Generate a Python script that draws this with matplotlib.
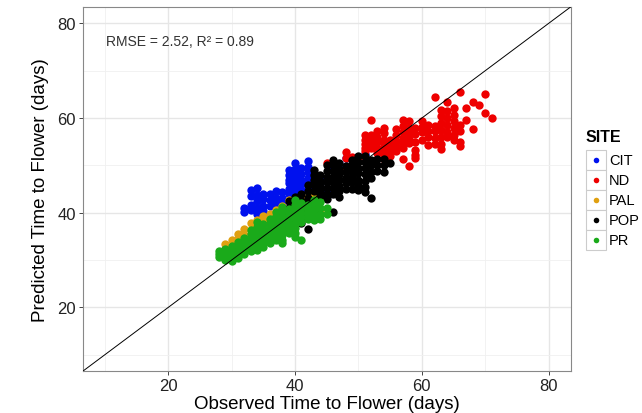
import matplotlib
matplotlib.use("Agg")
import matplotlib.pyplot as plt
from matplotlib.patches import Rectangle
from matplotlib.lines import Line2D

plt.rcParams['font.family'] = ['Liberation Sans', 'DejaVu Sans']

# observed day -> predicted days
cit = {32: [41.0, 40.2], 33: [44.8, 43.5, 41.6, 40.6],
       34: [45.2, 43.7, 42.4, 41.0, 39.8], 35: [44.0, 42.8, 41.5, 40.3],
       36: [43.9, 42.6, 41.4], 37: [44.5, 43.2, 42.0], 38: [44.3, 43.0, 41.8],
       39: [49.1, 48.0, 47.0, 46.2, 45.0, 44.0],
       40: [50.5, 49.3, 48.2, 47.1, 46.0, 45.0, 44.0, 42.8],
       41: [49.4, 48.2, 47.0, 46.0, 44.8],
       42: [50.9, 49.7, 48.5, 47.3, 46.2, 45.3],
       43: [48.0, 46.8, 45.6, 44.6], 44: [47.6, 46.2, 45.0, 43.8],
       45: [44.5, 43.6], 46: [50.5, 49.2], 47: [50.3, 49.1], 48: [51.6],
       50: [51.2], 51: [52.5]}

nd = {45: [50.4], 48: [52.8, 51.6, 49.1], 49: [51.7], 50: [51.3],
      51: [56.5, 55.3, 54.5, 53.7, 53.0], 52: [59.5, 56.5, 55.6, 54.6, 53.7],
      53: [57.2, 56.0, 55.0, 53.7, 52.6],
      54: [57.9, 56.8, 55.4, 54.3, 53.2, 52.2, 51.3],
      55: [55.4, 54.3, 53.2, 52.0], 56: [57.6, 56.5, 55.2, 54.0, 53.0],
      57: [59.5, 58.3, 57.0, 55.8, 54.7, 53.7, 51.4],
      58: [59.3, 58.0, 56.8, 55.6, 54.7, 49.8],
      59: [57.9, 56.6, 55.0, 53.3, 52.2, 51.5],
      60: [59.3, 58.1, 57.0, 55.4], 61: [58.6, 57.3, 56.0, 54.4],
      62: [64.5, 58.4, 57.2, 55.8, 54.5],
      63: [61.8, 60.4, 59.0, 57.4, 56.0, 54.6, 53.4],
      64: [63.3, 61.5, 60.0, 58.5, 57.0, 55.9],
      65: [62.1, 60.7, 59.3, 58.0, 56.5, 55.3],
      66: [65.6, 58.6, 57.2, 55.0, 54.0], 67: [62.2, 59.6],
      68: [63.3, 57.6], 69: [62.8], 70: [65.1, 61.1], 71: [60.1]}

pal = {29: [33.3, 32.4], 30: [34.2, 33.0], 31: [35.6, 34.5], 32: [36.6, 35.2],
       33: [37.9, 36.3], 34: [38.4, 36.9], 35: [39.3, 38.2], 36: [39.8, 38.8],
       37: [40.6, 39.3], 38: [41.5, 40.0, 37.5], 39: [42.7, 36.3],
       40: [42.4, 40.8], 41: [43.0, 41.5], 42: [43.4, 41.7],
       43: [43.8, 42.2], 44: [43.2, 40.6]}

pop = {38: [40.5, 39.3], 39: [42.5, 41.0], 40: [43.4, 41.8, 40.2, 38.2],
       41: [44.0, 42.5, 40.5, 39.0, 37.8], 42: [45.8, 44.5, 43.2, 42.0, 36.6],
       43: [49.1, 48.0, 47.0, 45.8, 44.5], 44: [48.0, 46.7, 45.6, 44.6, 43.5],
       45: [50.0, 48.8, 47.6, 46.4, 45.2, 44.0, 42.8],
       46: [51.2, 50.0, 48.8, 47.6, 46.4, 45.2, 44.0, 40.2],
       47: [50.5, 49.3, 48.1, 46.9, 45.7, 44.5, 43.4],
       48: [49.8, 48.6, 47.4, 46.2, 45.0],
       49: [51.2, 50.0, 48.8, 47.6, 46.4, 45.1],
       50: [52.0, 50.8, 49.5, 48.3, 47.0, 45.8, 44.8],
       51: [52.0, 50.7, 49.4, 48.1, 46.8, 45.5, 44.4],
       52: [51.2, 50.0, 48.7, 47.4, 43.0], 53: [51.3, 50.0, 48.8],
       54: [51.3, 50.0, 48.5], 55: [50.5]}

pr = {28: [32.0, 31.2, 30.6], 29: [32.4, 31.6, 30.8, 30.0],
      30: [33.0, 32.2, 31.4, 30.6, 29.8], 31: [33.8, 33.0, 32.2, 31.4, 30.5],
      32: [34.7, 33.8, 33.0, 32.2, 31.3],
      33: [36.3, 35.4, 34.5, 33.6, 32.7, 31.8],
      34: [38.0, 37.0, 36.0, 35.0, 34.0, 33.0, 32.2],
      35: [37.6, 36.6, 35.6, 34.6, 33.6, 32.7],
      36: [38.6, 37.6, 36.6, 35.6, 34.5, 33.5],
      37: [40.2, 39.2, 38.2, 37.2, 36.2, 35.2, 34.2],
      38: [41.3, 40.3, 39.3, 38.3, 37.3, 36.3, 35.3, 34.3, 33.5],
      39: [40.8, 39.8, 38.8, 37.8, 36.8, 35.8],
      40: [42.7, 41.7, 40.7, 39.7, 38.7, 37.7, 36.7, 35.7, 34.9],
      41: [42.0, 41.0, 40.0, 39.0, 38.0, 34.2], 42: [41.6, 40.6, 39.6, 38.6],
      43: [42.7, 41.6, 40.5, 39.4, 38.4], 44: [42.2, 41.0, 39.8, 38.6],
      45: [41.0, 39.8]}

sites = ['CIT', 'ND', 'PAL', 'POP', 'PR']
site_data = [cit, nd, pal, pop, pr]
colors = ['#0011ee', '#ee0000', '#e0a010', '#000000', '#1aaa1a']
ticks = [20, 40, 60, 80]
note = 'RMSE = 2.52, R\u00b2 = 0.89'

fig = plt.figure(figsize=(6.42, 4.14), dpi=100)
ax = fig.add_axes([0.129, 0.101, 0.760, 0.880])

for name, d, c in zip(sites, site_data, colors):
    xs, ys = [], []
    for obs, preds in d.items():
        xs += [obs] * len(preds)
        ys += preds
    ax.scatter(xs, ys, s=36, color=c, linewidths=0, zorder=3)

ax.axline((0, 0), slope=1, color='black', lw=0.7, zorder=4)

ax.set_xlim(6.5, 83.5)
ax.set_ylim(6.5, 83.5)
ax.set_xticks(ticks)
ax.set_yticks(ticks)
ax.set_xticks([10, 30, 50, 70], minor=True)
ax.set_yticks([10, 30, 50, 70], minor=True)
ax.grid(True, which='major', color='#e6e6e6', lw=1.0, zorder=0)
ax.grid(True, which='minor', color='#f0f0f0', lw=0.6, zorder=0)
ax.tick_params(which='major', length=3, width=0.7, color='#444444',
               labelsize=12, labelcolor='#222222', pad=2)
ax.tick_params(which='minor', length=0)
for sp in ax.spines.values():
    sp.set_color('#888888')
    sp.set_linewidth(0.8)

ax.set_xlabel('Observed Time to Flower (days)', fontsize=13.5, labelpad=1)
ax.set_ylabel('Predicted Time to Flower (days)', fontsize=13.5, labelpad=6)
ax.text(10.2, 76.2, note, fontsize=10, color='#333333', va='center', ha='left')

# legend in ggplot style, drawn in figure pixels
W, H = 642, 414
fig.text(586 / W, 1 - 137 / H, 'SITE', fontsize=11.5, fontweight='bold',
         va='center', ha='left')
for i, (name, c) in enumerate(zip(sites, colors)):
    cy = 161 + 20 * i
    fig.add_artist(Rectangle((586 / W, 1 - (cy + 10) / H), 20 / W, 20 / H,
                             transform=fig.transFigure, facecolor='white',
                             edgecolor='#cccccc', lw=0.8))
    fig.add_artist(Line2D([596 / W], [1 - cy / H], marker='o', ms=4,
                          color=c, mew=0, transform=fig.transFigure))
    fig.text(609 / W, 1 - cy / H, name, fontsize=10.5, va='center', ha='left')

fig.savefig('out.png', dpi=100)
